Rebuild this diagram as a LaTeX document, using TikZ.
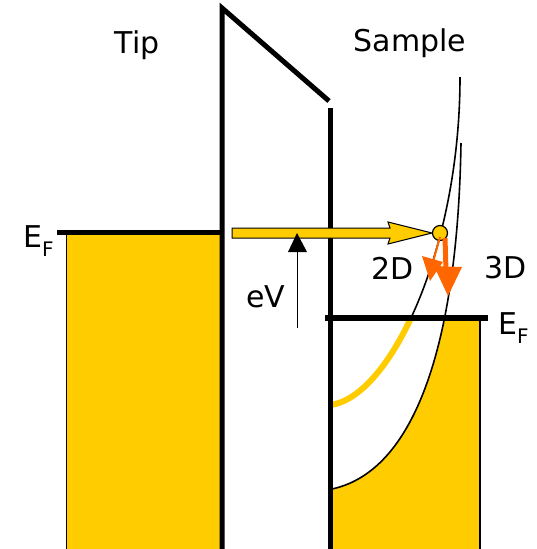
\documentclass[tikz,border=0pt]{standalone}
\usepackage{fontspec}
\setmainfont{DejaVu Sans}
\definecolor{gold}{HTML}{FFCC00}
\definecolor{orng}{HTML}{FF6600}
\begin{document}
\begin{tikzpicture}[x=1pt,y=-1pt,
  lbl/.style={font=\fontsize{30}{36}\selectfont, inner sep=0pt},
  wall/.style={line width=5pt, line join=miter},
  thin curve/.style={line width=1.6pt},
]
\useasboundingbox (0,0) rectangle (536,549);
% tip
\fill[gold] (66,232) rectangle (221,549);
\draw[line width=0.8pt] (66,234) -- (66,549);
\draw[wall] (57,232) -- (222,232);
\draw[wall] (222,549) -- (222,8) -- (329,101);
% sample fill
\fill[gold] (330,318) rectangle (480,549);
\begin{scope}
  \clip (330,318) rectangle (480,549);
  \fill[white] (332,489) .. controls (420,470) and (458,330) .. (461,143) -- (320,143) -- (320,489) -- cycle;
\end{scope}
\draw[line width=1.2pt] (480,318) -- (480,549);
% 3D curve
\draw[thin curve] (332,489) .. controls (420,470) and (458,330) .. (461,143);
% 2D curve
\draw[thin curve] (330,405) .. controls (390,398) and (460,250) .. (460,77);
\begin{scope}
  \clip (320,318) rectangle (480,549);
  \draw[gold, line width=6pt] (330,405) .. controls (390,398) and (460,250) .. (460,77);
\end{scope}
% sample walls
\draw[wall] (330,108) -- (330,549);
\draw[line width=6pt] (325,318) -- (488,318);
% tunnelling arrow
\draw[fill=gold, line width=1pt, line join=miter]
  (232,228) -- (390,228) -- (388,222) -- (432,233) -- (388,244) -- (390,238) -- (232,238) -- cycle;
\node[circle, fill=gold, draw, line width=1.2pt, minimum size=15pt, inner sep=0pt] (dot) at (440,233) {};
% orange arrows
\coordinate (d2) at (430,281);
\coordinate (d3) at (448,296);
\draw[orng, line width=2pt] (dot.center) ++(0,4) -- (433,262);
\fill[orng] (d2) -- (422,256) -- (443,262) -- cycle;
\draw[orng, line width=5pt] (445,238) -- (446,270);
\fill[orng] (d3) -- (434,266) -- (462,267) -- cycle;
% eV arrow
\coordinate (evb) at (297,328);
\coordinate (evt) at (297,233);
\draw[line width=1pt] (evb) -- (297,250);
\fill (evt) -- (307,252) -- (288,252) -- cycle;
% labels
\node[lbl] (tip) at (137,45) {Tip};
\node[lbl] (sample) at (410,43) {Sample};
\node[lbl, anchor=base west] (efl) at (23,247) {E\raisebox{-0.3em}{\fontsize{20}{20}\selectfont F}};
\node[lbl, anchor=base west] (efr) at (498,334) {E\raisebox{-0.3em}{\fontsize{20}{20}\selectfont F}};
\node[lbl] (ev) at (266,297) {eV};
\node[lbl] (l2d) at (393,268) {2D};
\node[lbl] (l3d) at (506,268) {3D};
\end{tikzpicture}
\end{document}
